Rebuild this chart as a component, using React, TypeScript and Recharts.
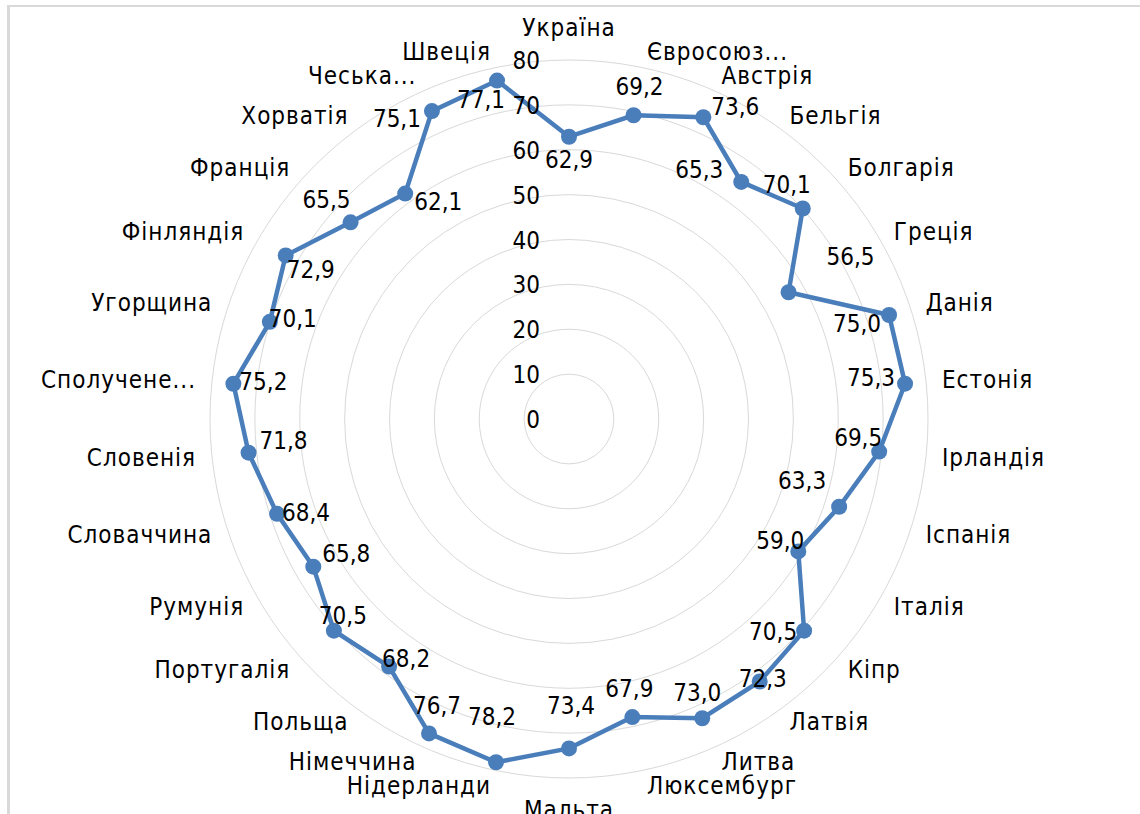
import { RadarChart, Radar, PolarGrid, PolarAngleAxis, PolarRadiusAxis, LabelList } from 'recharts';

// Categories in clockwise order, starting at the top
const CATEGORIES = [
  'Україна', 'Євросоюз...', 'Австрія', 'Бельгія', 'Болгарія', 'Греція', 'Данія', 'Естонія',
  'Ірландія', 'Іспанія', 'Італія', 'Кіпр', 'Латвія', 'Литва', 'Люксембург', 'Мальта',
  'Нідерланди', 'Німеччина', 'Польща', 'Португалія', 'Румунія', 'Словаччина', 'Словенія',
  'Сполучене...', 'Угорщина', 'Фінляндія', 'Франція', 'Хорватія', 'Чеська...', 'Швеція',
];

const VALUES = [
  62.9, 69.2, 73.6, 65.3, 70.1, 56.5, 75.0, 75.3,
  69.5, 63.3, 59.0, 70.5, 72.3, 73.0, 67.9, 73.4,
  78.2, 76.7, 68.2, 70.5, 65.8, 68.4, 71.8,
  75.2, 70.1, 72.9, 65.5, 62.1, 75.1, 77.1,
];

const RADIUS_TICKS = [0, 10, 20, 30, 40, 50, 60, 70, 80];

// Manual nudges of the value labels relative to their points (as placed in the source)
const LABEL_NUDGE: [number, number][] = [
  [0, 23], [6, -28], [32, -10], [-42, -12], [-16, -24], [62, -35], [-32, 9], [-34, -6],
  [-21, -14], [-37, -26], [-18, -10], [-31, 1], [3, -2], [-5, -25], [-3, -28], [2, -42],
  [-4, -45], [8, -27], [17, -8], [9, -15], [33, -13], [29, -1], [35, -12],
  [30, -2], [23, -3], [25, 15], [-24, -22], [33, 8], [-35, 8], [-16, 19],
];

const data = CATEGORIES.map((name, i) => ({ name, value: VALUES[i] }));

const CX = 569;
const CY = 419;
const OUTER = 359;
const LINE_COLOR = '#4a7ebb';
const FONT = "'DejaVu Sans Condensed', 'DejaVu Sans', sans-serif";
const FONT_SIZE = 24;
const RAD = Math.PI / 180;

const textStyle = { fontFamily: FONT, fontSize: FONT_SIZE, fontStretch: 'condensed' as const };

const fmt = (v: number) => v.toFixed(1).replace('.', ',');

const AngleTick = ({ payload }: any) => {
  const a = payload.coordinate;
  const cos = Math.cos(a * RAD);
  const sin = Math.sin(a * RAD);
  const r = 375;
  const x = CX + r * cos;
  let y = CY - r * sin;
  let anchor: 'start' | 'end' | 'middle' = 'middle';
  if (cos > 0.05) anchor = 'start';
  else if (cos < -0.05) anchor = 'end';
  else y -= sin * 16;
  return (
    <text
      x={x}
      y={y}
      textAnchor={anchor}
      dominantBaseline="central"
      fill="#000"
      style={{ ...textStyle, letterSpacing: 1 }}
    >
      {payload.value}
    </text>
  );
};

const RadiusTick = ({ x, y, payload }: any) => (
  <text x={x - 29} y={y + 1} textAnchor="end" dominantBaseline="central" fill="#000" style={textStyle}>
    {payload.value}
  </text>
);

const ValueLabel = (props: any) => {
  const { x, y, value, index } = props;
  const [dx, dy] = LABEL_NUDGE[index] || [0, 0];
  return (
    <text x={x + dx} y={y + dy} textAnchor="middle" dominantBaseline="central" fill="#000" style={textStyle}>
      {fmt(value)}
    </text>
  );
};

export default function App() {
  return (
    <div style={{ position: 'absolute', left: 0, top: 0, width: 1140, height: 814, background: '#fff', overflow: 'hidden' }}>
      {/* worksheet frame */}
      <div style={{ position: 'absolute', left: 7, top: 5, width: 1133, height: 2, background: '#d9d9d9' }} />
      <div style={{ position: 'absolute', left: 7, top: 5, width: 3, height: 809, background: '#d9d9d9' }} />
      <div style={{ position: 'absolute', left: 0, top: 0 }}>
        <RadarChart
          width={1140}
          height={814}
          data={data}
          cx={CX}
          cy={CY}
          outerRadius={OUTER}
          startAngle={90}
          endAngle={-270}
          margin={{ top: 0, right: 0, bottom: 0, left: 0 }}
        >
          <PolarGrid gridType="circle" radialLines={false} stroke="#d9d9d9" strokeWidth={1} />
          <PolarAngleAxis dataKey="name" tick={<AngleTick />} tickLine={false} axisLine={false} />
          <PolarRadiusAxis
            angle={90}
            domain={[0, 80]}
            ticks={RADIUS_TICKS as any}
            tickCount={9}
            axisLine={false}
            tickLine={false}
            tick={<RadiusTick />}
          />
          <Radar
            dataKey="value"
            stroke={LINE_COLOR}
            strokeWidth={4.5}
            fill="none"
            fillOpacity={0}
            dot={{ r: 8, fill: LINE_COLOR, stroke: LINE_COLOR, strokeWidth: 0, fillOpacity: 1 }}
            isAnimationActive={false}
          >
            <LabelList dataKey="value" content={<ValueLabel />} />
          </Radar>
        </RadarChart>
      </div>
    </div>
  );
}
